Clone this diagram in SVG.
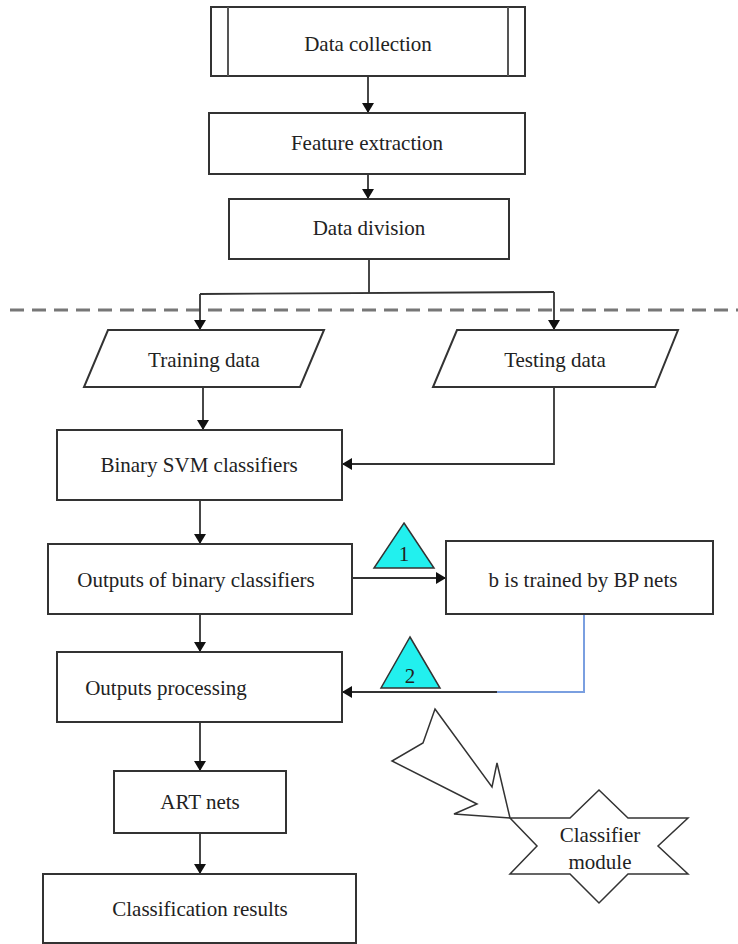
<svg xmlns="http://www.w3.org/2000/svg" width="738" height="944" viewBox="0 0 738 944">
<defs>
<marker id="ah" markerWidth="10" markerHeight="12" refX="9" refY="6" orient="auto" markerUnits="userSpaceOnUse">
<path d="M0,0 L10,6 L0,12 z" fill="#111"/>
</marker>
<style>
.box{fill:#fff;stroke:#333;stroke-width:2}
.t{font-size:21px;fill:#222;text-anchor:middle}
.c{fill:none;stroke:#333;stroke-width:1.8}
.tri{fill:#22f0ee;stroke:#333;stroke-width:1.5}
</style>
</defs>
<rect width="738" height="944" fill="#fff"/>
<line x1="10" y1="310" x2="738" y2="310" stroke="#777" stroke-width="3" stroke-dasharray="14 8"/>
<g id="connectors">
<path class="c" d="M368,76 V112" marker-end="url(#ah)"/>
<path class="c" d="M368,174 V198" marker-end="url(#ah)"/>
<path class="c" d="M369,259 V293"/>
<path class="c" d="M200,294 L554,292"/>
<path class="c" d="M200,294 V329" marker-end="url(#ah)"/>
<path class="c" d="M554,292 V329" marker-end="url(#ah)"/>
<path class="c" d="M203,387 V429" marker-end="url(#ah)"/>
<path class="c" d="M554,387 V464 H343" marker-end="url(#ah)"/>
<path class="c" d="M200,500 V543" marker-end="url(#ah)"/>
<path class="c" d="M352,578 H445" marker-end="url(#ah)"/>
<path class="c" d="M200,614 V651" marker-end="url(#ah)"/>
<path fill="none" stroke="#7a9fe0" stroke-width="2" d="M584,614 V692 H497"/>
<path class="c" d="M497,692 H343" marker-end="url(#ah)"/>
<path class="c" d="M200,722 V770" marker-end="url(#ah)"/>
<path class="c" d="M200,833 V873" marker-end="url(#ah)"/>
</g>
<g font-family="'Liberation Serif', 'Times New Roman', 'DejaVu Serif', serif">
<g id="data-collection">
<rect class="box" x="211" y="7" width="314" height="69"/>
<line x1="228" y1="7" x2="228" y2="76" stroke="#555" stroke-width="2"/>
<line x1="508" y1="7" x2="508" y2="76" stroke="#555" stroke-width="2"/>
<text class="t" x="368" y="51">Data collection</text>
</g>
<g id="feature-extraction">
<rect class="box" x="209" y="113" width="316" height="61"/>
<text class="t" x="367" y="150">Feature extraction</text>
</g>
<g id="data-division">
<rect class="box" x="229" y="199" width="280" height="60"/>
<text class="t" x="369" y="235">Data division</text>
</g>
<g id="training-data">
<polygon class="box" points="108,330 324,330 300,387 84,387"/>
<text class="t" x="204" y="367">Training data</text>
</g>
<g id="testing-data">
<polygon class="box" points="457,330 678,330 655,387 433,387"/>
<text class="t" x="555" y="367">Testing data</text>
</g>
<g id="binary-svm">
<rect class="box" x="57" y="430" width="285" height="70"/>
<text class="t" x="199" y="472">Binary SVM classifiers</text>
</g>
<g id="outputs-binary">
<rect class="box" x="48" y="544" width="304" height="70"/>
<text class="t" x="196" y="587">Outputs of binary classifiers</text>
</g>
<g id="bp-nets">
<rect class="box" x="446" y="541" width="267" height="73"/>
<text class="t" x="583" y="587">b is trained by BP nets</text>
</g>
<g id="triangle-1">
<polygon class="tri" points="404,523 434,568 374,568"/>
<text class="t" x="404" y="561">1</text>
</g>
<g id="triangle-2">
<polygon class="tri" points="410,637 440,688 381,688"/>
<text class="t" x="410" y="683">2</text>
</g>
<g id="outputs-processing">
<rect class="box" x="57" y="652" width="285" height="70"/>
<text class="t" x="166" y="695">Outputs processing</text>
</g>
<g id="art-nets">
<rect class="box" x="114" y="771" width="172" height="62"/>
<text class="t" x="200" y="809">ART nets</text>
</g>
<g id="classification-results">
<rect class="box" x="43" y="874" width="313" height="69"/>
<text class="t" x="200" y="916">Classification results</text>
</g>
<g id="callout-arrow">
<polygon fill="#fff" stroke="#333" stroke-width="1.5" points="435,709 492,787 497,763 510,818 454,814 477,804 392,761 423,743"/>
</g>
<g id="classifier-module">
<polygon fill="#fff" stroke="#333" stroke-width="1.5" points="510,818 570,818 599,790 628,818 688,818 658,846 688,874 628,874 599,903 570,874 510,874 537,846"/>
<text class="t" x="600" y="842">Classifier</text>
<text class="t" x="600" y="869">module</text>
</g>
</g>
</svg>
